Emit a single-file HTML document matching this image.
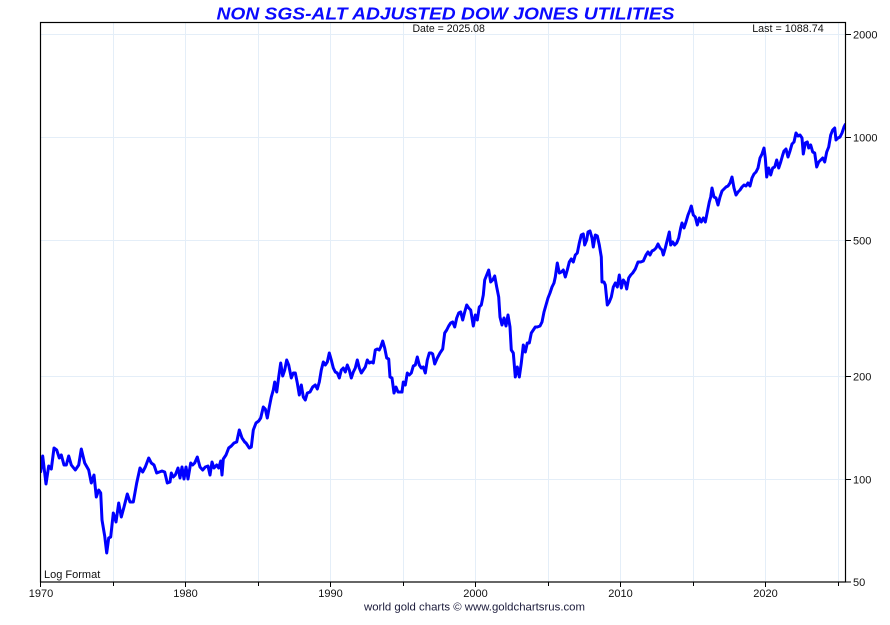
<!DOCTYPE html>
<html><head><meta charset="utf-8"><style>
html,body{margin:0;padding:0;background:#fff;}
svg{display:block;}
text{font-family:"Liberation Sans",Arial,sans-serif;}
</style></head><body>
<svg width="890" height="625" viewBox="0 0 890 625" xmlns="http://www.w3.org/2000/svg">
<rect width="890" height="625" fill="#fff"/>
<defs><clipPath id="pc"><rect x="40.5" y="22.5" width="805" height="559.5"/></clipPath></defs>
<!-- grid -->
<g stroke="#e4eef8" stroke-width="1">
<line x1="113.5" y1="23" x2="113.5" y2="582"/>
<line x1="185.5" y1="23" x2="185.5" y2="582"/>
<line x1="258.5" y1="23" x2="258.5" y2="582"/>
<line x1="330.5" y1="23" x2="330.5" y2="582"/>
<line x1="403.5" y1="23" x2="403.5" y2="582"/>
<line x1="475.5" y1="23" x2="475.5" y2="582"/>
<line x1="548.5" y1="23" x2="548.5" y2="582"/>
<line x1="620.5" y1="23" x2="620.5" y2="582"/>
<line x1="693.5" y1="23" x2="693.5" y2="582"/>
<line x1="765.5" y1="23" x2="765.5" y2="582"/>
<line x1="838.5" y1="23" x2="838.5" y2="582"/>
<line x1="41" y1="34.5" x2="845" y2="34.5"/>
<line x1="41" y1="137.5" x2="845" y2="137.5"/>
<line x1="41" y1="240.5" x2="845" y2="240.5"/>
<line x1="41" y1="376.5" x2="845" y2="376.5"/>
<line x1="41" y1="479.5" x2="845" y2="479.5"/>
</g>
<!-- series -->
<polyline clip-path="url(#pc)" fill="none" stroke="#0000ff" stroke-width="3" stroke-linejoin="round" stroke-linecap="round" points="
40.7,471.7 42.7,456 46,484 48.7,466 51.3,469 54,448 56.7,450 59.3,458 61.3,455 64,465 66.3,465 68.7,456 71.3,465 75.3,470 78.7,465 81.3,449 84.7,463 88.7,470 91.3,483 94,475 96.3,497 98.7,490 100.7,493 102,520 104.7,536 106.7,553 108.7,538 110.7,537 113.3,513 116,522 118.7,503 121.3,517 124,507 127.3,494 130,502 133.3,502 136.7,483 140,468 142.7,472 145.3,467 148.7,458 151.3,463 154,465 156.7,473 159.3,472 162,471 164.7,472 167.3,483 170,482 171.3,473 173.3,477 175.3,475 178,468 180,478 182,467 184,479 186,467 188,479 190.7,463 192.7,465 194.7,463 197.3,457 200,467 202.7,470 205.3,467 208,466 210,475 212,462 214,468 216.7,465 218.7,468 220.7,461 222,475 223.3,459 226,455 228.7,448 231.3,446 234,443 236.7,442 239.3,430 242,438 244.7,442 246,443 249.3,448 251.3,447 253.3,430 256,423 258.7,421 260.7,418 263.3,407 265.3,409 267.3,418 269.3,407 271.3,397 273.3,390 274.7,382 276.7,392 278.7,377 280.7,363 282.7,376 284.7,370 286.7,360 288.7,365 291.3,378 293.3,373 295.3,373 297.3,383 299.3,395 301.3,385 303.3,397 305.3,400 307.3,393 310,392 312.7,387 315.3,385 317.3,389 319.3,382 321.3,370 323.3,362 325.3,365 327.3,362 329.3,353 331.3,360 333.3,368 335.3,372 337.3,373 339.3,378 341.3,370 343.3,368 345.3,372 347.3,365 349.3,370 351.3,378 353.3,372 355.3,368 357.3,360 359.3,368 361.3,373 363.3,370 365.3,367 367.3,360 369.3,363 371.3,362 373.3,363 375.3,350 377.3,349 379.3,350 380.7,347 382.7,341 384.7,348 386.7,358 388.7,359 390,377 392,378 394,393 396,387 398,392 400,392 402,392 403.3,382 405.3,385 407.3,373 409.3,375 411.3,373 413.3,366 415.3,365 417.3,357 419.3,365 421.3,368 423.3,367 425.3,373 427.3,360 429.3,353 431.3,353 432.7,354 434.7,364 437.3,358 440,353 442.7,349 444.7,333 446.7,330 448.7,326 450.7,323 452.7,322 454.7,327 456.7,318 458.7,313 460.7,312 462.7,320 464.7,312 466.7,305 468.7,308 470.7,310 473.3,326 475.3,315 477.3,320 479.3,307 481.3,305 483.3,295 484.7,280 486.7,275 488.7,270 490.7,282 492.7,280 494.7,276 496.7,287 498.7,297 500,317 502,325 504,318 506,326 508,315 510,327 511.3,350 513.3,353 515.3,377 517.3,367 519.3,377 521.3,363 523.3,345 525.3,352 527.3,343 529.3,343 531.3,333 533.3,330 535.3,327 537.3,327 540,326 542,322 544,312 546,305 548,298 550,293 552,287 554,283 555.3,277 557.3,263 559.3,273 561.3,272 563.3,270 565.3,277 567.3,270 569.3,262 571.3,259 573.3,262 575.3,255 577.3,253 579.3,243 581.3,235 583.3,234 584.7,245 586.7,240 588,232 590,231 592,238 593.3,247 595.3,235 597.3,236 599.3,245 601.3,257 602,282 604,282 605.3,285 607.3,305 609.3,302 611.3,297 613.3,287 615.3,283 617.3,287 619.3,275 621.3,288 623.3,280 625.3,283 626.7,289 628.7,278 630.7,275 632.7,273 635.3,269 638,262 640.7,262 643.3,261 646,255 648,252 650,255 652,251 654,250 656,248 658,244 660,248 662,250 663.3,255 665.3,248 667.3,240 669.3,232 670.7,245 672.7,242 674.7,245 676.7,243 678.7,238 680.7,228 682,223 684,228 686,222 688,215 690,210 691.3,206 693.3,215 695.3,217 697.3,225 699.3,218 701.3,222 703.3,218 705.3,222 707.3,212 709.3,202 710.7,197 712,188 714,197 716,198 718,205 720,197 722,191 724,189 726,187 728,186 730,183 732,177 734,188 736,195 738,192 740,190 742,187 744,185 746,186 748,183 750,186 752,178 754,174 756,172 758,168 760,158 762,154 764,148 765.3,158 766.7,177 768.7,168 770.7,175 772.7,168 774.7,167 776.7,160 778.7,168 780.7,162 782.7,155 784,151 786,149 788,157 790,151 792,144 794,142 796,133 798,136 800,135 802,138 803.3,154 805.3,143 807.3,142 808.7,148 810.7,145 812.7,152 814.7,153 816.7,167 818.7,162 820.7,160 822.7,158 824.7,162 826.7,152 828.7,147 830.7,135 832.7,130 834.7,128 836,140 838,138 840,137 842,133 844,127 845.3,124.5"/>
<!-- frame -->
<rect x="40.5" y="22.5" width="805" height="559.5" fill="none" stroke="#000" stroke-width="1.2"/>
<!-- bottom ticks -->
<g stroke="#000" stroke-width="1">
<line x1="40.5" y1="582" x2="40.5" y2="587"/>
<line x1="113.5" y1="582" x2="113.5" y2="586"/>
<line x1="185.5" y1="582" x2="185.5" y2="587"/>
<line x1="258.5" y1="582" x2="258.5" y2="586"/>
<line x1="330.5" y1="582" x2="330.5" y2="587"/>
<line x1="403.5" y1="582" x2="403.5" y2="586"/>
<line x1="475.5" y1="582" x2="475.5" y2="587"/>
<line x1="548.5" y1="582" x2="548.5" y2="586"/>
<line x1="620.5" y1="582" x2="620.5" y2="587"/>
<line x1="693.5" y1="582" x2="693.5" y2="586"/>
<line x1="765.5" y1="582" x2="765.5" y2="587"/>
<line x1="838.5" y1="582" x2="838.5" y2="586"/>
<!-- right ticks -->
<line x1="846" y1="34.5" x2="851" y2="34.5"/>
<line x1="846" y1="137.5" x2="851" y2="137.5"/>
<line x1="846" y1="240.5" x2="851" y2="240.5"/>
<line x1="846" y1="376.5" x2="851" y2="376.5"/>
<line x1="846" y1="479.5" x2="851" y2="479.5"/>
<line x1="846" y1="582" x2="851" y2="582"/>
</g>
<!-- labels -->
<g font-size="11" fill="#111">
<text x="41" y="597" text-anchor="middle">1970</text>
<text x="185.5" y="597" text-anchor="middle">1980</text>
<text x="330.5" y="597" text-anchor="middle">1990</text>
<text x="475.5" y="597" text-anchor="middle">2000</text>
<text x="620.5" y="597" text-anchor="middle">2010</text>
<text x="765.5" y="597" text-anchor="middle">2020</text>
<text x="853" y="38.5">2000</text>
<text x="853" y="141.5">1000</text>
<text x="853" y="244.5">500</text>
<text x="853" y="380.5">200</text>
<text x="853" y="483.5">100</text>
<text x="853" y="586">50</text>
<text x="44" y="578">Log Format</text>
<text x="448.7" y="32" text-anchor="middle" textLength="72.5" lengthAdjust="spacingAndGlyphs">Date = 2025.08</text>
<text x="823.7" y="32" text-anchor="end" textLength="71.5" lengthAdjust="spacingAndGlyphs">Last = 1088.74</text>
<text x="474.5" y="610.5" text-anchor="middle" fill="#1a1a3a" textLength="221" lengthAdjust="spacingAndGlyphs">world gold charts © www.goldchartsrus.com</text>
</g>
<text x="445.5" y="19.5" text-anchor="middle" font-size="17.5" font-weight="bold" font-style="italic" fill="#0a0aff" textLength="458" lengthAdjust="spacingAndGlyphs">NON SGS-ALT ADJUSTED DOW JONES UTILITIES</text>
</svg>
</body></html>
